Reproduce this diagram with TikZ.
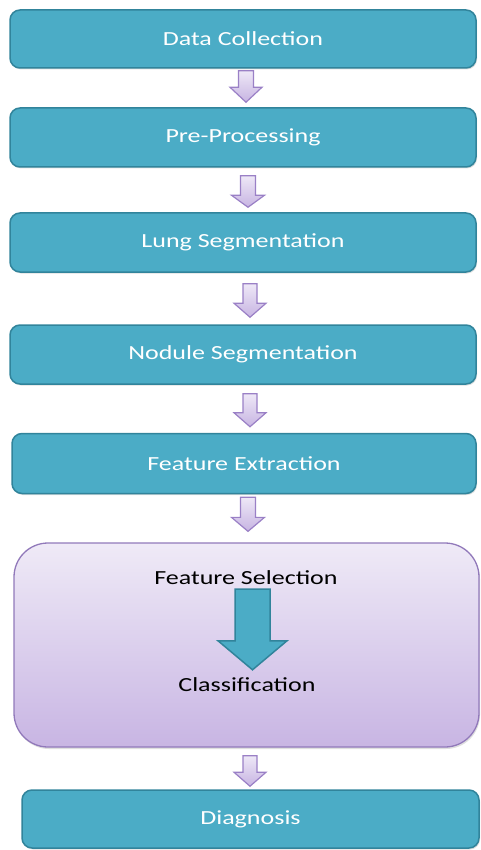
\documentclass[tikz,border=0pt]{standalone}
\usepackage{fontspec}
\setmainfont{Carlito}
\usetikzlibrary{calc,shadows}
\definecolor{tealfill}{HTML}{4BACC6}
\definecolor{tealborder}{HTML}{31849B}
\definecolor{ptop}{HTML}{EFEAF7}
\definecolor{pbot}{HTML}{C8B5E3}
\definecolor{pborder}{HTML}{9179BA}
\definecolor{atop}{HTML}{EEE8F7}
\definecolor{abot}{HTML}{C7B4E2}
\definecolor{aborder}{HTML}{9A80C6}
\newcommand\stretchtext[1]{\scalebox{1.3}[1]{#1}}
\newcommand\blockarr[6]{%
  \draw[#1] let \p1=(#2), \p2=(#3) in
    (\x1-#4,\y1) -- (\x1+#4,\y1) -- (\x1+#4,\y2+#6) -- (\x1+#5,\y2+#6)
    -- (\x1,\y2) -- (\x1-#5,\y2+#6) -- (\x1-#4,\y2+#6) -- cycle;}
\tikzset{
  tealbox/.style={draw=tealborder, line width=1.5pt, fill=tealfill,
    rounded corners=10pt, minimum height=58pt, inner sep=0pt,
    text=white, font=\fontsize{20}{24}\selectfont,
    drop shadow={shadow xshift=1pt, shadow yshift=-1.5pt, opacity=0.25}},
  purplebox/.style={draw=pborder, line width=1.3pt, top color=ptop,
    bottom color=pbot, rounded corners=34pt, inner sep=0pt,
    drop shadow={shadow xshift=1pt, shadow yshift=-2pt, opacity=0.25}},
  darktext/.style={text=black, font=\fontsize{20}{24}\selectfont, inner sep=0pt},
  parrowstyle/.style={draw=aborder, line width=1.2pt, top color=atop,
    bottom color=abot, line join=miter},
  tarrowstyle/.style={draw=tealborder, line width=1.5pt, fill=tealfill,
    line join=miter},
}
\begin{document}
\begin{tikzpicture}[x=1pt,y=-1pt]
\useasboundingbox (0,0) rectangle (481,850);
\node[tealbox, minimum width=466pt, minimum height=58pt] (b1) at (243,39) {\stretchtext{Data Collection}};
\node[tealbox, minimum width=466pt, minimum height=59pt] (b2) at (243,137.5) {\stretchtext{Pre-Processing}};
\node[tealbox, minimum width=466pt, minimum height=59pt] (b3) at (243,242.5) {\stretchtext{Lung Segmentation}};
\node[tealbox, minimum width=466pt, minimum height=59pt] (b4) at (243,354.5) {\stretchtext{Nodule Segmentation}};
\node[tealbox, minimum width=464pt, minimum height=60pt] (b5) at (244,463.5) {\stretchtext{Feature Extraction}};
\node[purplebox, minimum width=465pt, minimum height=204pt] (b6) at (246.5,645) {};
\node[darktext] (fs) at (246,578) {\stretchtext{Feature Selection}};
\node[darktext] (cl) at (247,685) {\stretchtext{Classification}};
\node[tealbox, minimum width=457pt, minimum height=58pt] (b7) at (250.5,819) {\stretchtext{Diagnosis}};
% connector end points
\coordinate (a1s) at ([xshift=3pt,yshift=-2pt]b1.south);
\coordinate (a1e) at ([yshift=5pt]b2.north);
\coordinate (a2s) at ([xshift=5pt,yshift=-8pt]b2.south);
\coordinate (a2e) at ([yshift=5pt]b3.north);
\coordinate (a3s) at ([xshift=7pt,yshift=-11pt]b3.south);
\coordinate (a3e) at ([yshift=7pt]b4.north);
\coordinate (a4s) at ([xshift=7pt,yshift=-9pt]b4.south);
\coordinate (a4e) at ([yshift=6pt]b5.north);
\coordinate (a5s) at ([xshift=4pt,yshift=-3pt]b5.south);
\coordinate (a5e) at ([yshift=11pt]b6.north);
\coordinate (a6s) at ([xshift=3.5pt,yshift=-8pt]b6.south);
\coordinate (a6e) at ([yshift=3pt]b7.north);
\coordinate (ts) at ([xshift=6.5pt,yshift=-4pt]fs.south);
\coordinate (te) at ([yshift=8pt]cl.north);
\blockarr{parrowstyle}{a1s}{a1e}{7.5pt}{16pt}{15pt}
\blockarr{parrowstyle}{a2s}{a2e}{7.5pt}{16.5pt}{12pt}
\blockarr{parrowstyle}{a3s}{a3e}{7pt}{16pt}{14pt}
\blockarr{parrowstyle}{a4s}{a4e}{7pt}{16pt}{14pt}
\blockarr{parrowstyle}{a5s}{a5e}{7.5pt}{16.5pt}{14pt}
\blockarr{parrowstyle}{a6s}{a6e}{7pt}{16pt}{14pt}
\blockarr{tarrowstyle}{ts}{te}{17.5pt}{34.5pt}{29pt}
\end{tikzpicture}
\end{document}
